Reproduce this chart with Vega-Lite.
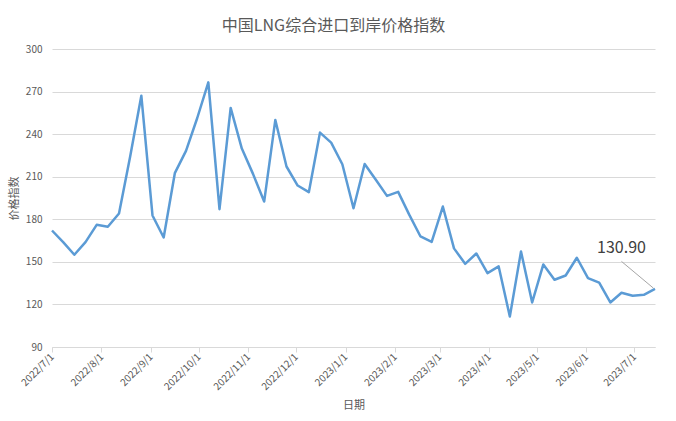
{
  "$schema": "https://vega.github.io/schema/vega-lite/v6.json",
  "autosize": {"type": "none"},
  "padding": {"left": 52, "top": 49, "right": 21, "bottom": 74},
  "width": 603,
  "height": 298,
  "background": "white",
  "title": {"text": "中国LNG综合进口到岸价格指数", "font": "Noto Sans CJK SC", "fontSize": 16, "fontWeight": "normal", "color": "#595959", "offset": 10, "dx": -20},
  "config": {
    "view": {"stroke": null},
    "axis": {"labelFont": "Noto Sans CJK SC", "titleFont": "Noto Sans CJK SC", "labelColor": "#595959", "titleColor": "#595959", "labelFontSize": 10, "titleFontSize": 11, "titleFontWeight": "normal"}
  },
  "datasets": {
    "series": [
      {"date": "2022/07/01", "value": 172.1},
      {"date": "2022/07/08", "value": 163.9},
      {"date": "2022/07/15", "value": 155.0},
      {"date": "2022/07/22", "value": 163.9},
      {"date": "2022/07/29", "value": 176.1},
      {"date": "2022/08/05", "value": 174.7},
      {"date": "2022/08/12", "value": 184.1},
      {"date": "2022/08/19", "value": 224.2},
      {"date": "2022/08/26", "value": 267.1},
      {"date": "2022/09/02", "value": 182.7},
      {"date": "2022/09/09", "value": 167.2},
      {"date": "2022/09/16", "value": 212.5},
      {"date": "2022/09/23", "value": 228.2},
      {"date": "2022/09/30", "value": 251.2},
      {"date": "2022/10/07", "value": 276.5},
      {"date": "2022/10/14", "value": 187.1},
      {"date": "2022/10/21", "value": 258.5},
      {"date": "2022/10/28", "value": 229.8},
      {"date": "2022/11/04", "value": 212.0},
      {"date": "2022/11/11", "value": 192.5},
      {"date": "2022/11/18", "value": 250.0},
      {"date": "2022/11/25", "value": 217.2},
      {"date": "2022/12/02", "value": 203.8},
      {"date": "2022/12/09", "value": 199.1},
      {"date": "2022/12/16", "value": 241.1},
      {"date": "2022/12/23", "value": 234.0},
      {"date": "2022/12/30", "value": 218.8},
      {"date": "2023/01/06", "value": 187.8},
      {"date": "2023/01/13", "value": 219.0},
      {"date": "2023/01/20", "value": 207.8},
      {"date": "2023/01/27", "value": 196.5},
      {"date": "2023/02/03", "value": 199.3},
      {"date": "2023/02/10", "value": 183.1},
      {"date": "2023/02/17", "value": 167.9},
      {"date": "2023/02/24", "value": 164.1},
      {"date": "2023/03/03", "value": 189.0},
      {"date": "2023/03/10", "value": 159.5},
      {"date": "2023/03/17", "value": 148.6},
      {"date": "2023/03/24", "value": 155.9},
      {"date": "2023/03/31", "value": 142.1},
      {"date": "2023/04/07", "value": 146.8},
      {"date": "2023/04/14", "value": 111.5},
      {"date": "2023/04/21", "value": 157.3},
      {"date": "2023/04/28", "value": 121.4},
      {"date": "2023/05/05", "value": 148.2},
      {"date": "2023/05/12", "value": 137.4},
      {"date": "2023/05/19", "value": 140.4},
      {"date": "2023/05/26", "value": 152.9},
      {"date": "2023/06/02", "value": 138.6},
      {"date": "2023/06/09", "value": 135.3},
      {"date": "2023/06/16", "value": 121.4},
      {"date": "2023/06/23", "value": 128.2},
      {"date": "2023/06/30", "value": 126.1},
      {"date": "2023/07/07", "value": 126.8},
      {"date": "2023/07/14", "value": 130.9}
    ],
    "callout": [
      {"date": "2023/06/23", "value": 150.3, "date2": "2023/07/13", "value2": 131.5, "labelValue": 159.5, "label": "130.90"}
    ]
  },
  "layer": [
    {
      "data": {"name": "series"},
      "mark": {"type": "line", "color": "#5b9bd5", "strokeWidth": 2.5, "strokeJoin": "round"},
      "encoding": {
        "x": {
          "field": "date", "type": "temporal",
          "scale": {"domain": [{"year": 2022, "month": 7, "date": 1}, {"year": 2023, "month": 7, "date": 14}]},
          "axis": {
            "title": "日期", "titlePadding": 8,
            "format": "%Y/%-m/%-d", "labelAngle": -45, "labelAlign": "right", "labelBaseline": "middle",
            "values": [
              {"year": 2022, "month": 7, "date": 1}, {"year": 2022, "month": 8, "date": 1}, {"year": 2022, "month": 9, "date": 1},
              {"year": 2022, "month": 10, "date": 1}, {"year": 2022, "month": 11, "date": 1}, {"year": 2022, "month": 12, "date": 1},
              {"year": 2023, "month": 1, "date": 1}, {"year": 2023, "month": 2, "date": 1}, {"year": 2023, "month": 3, "date": 1},
              {"year": 2023, "month": 4, "date": 1}, {"year": 2023, "month": 5, "date": 1}, {"year": 2023, "month": 6, "date": 1},
              {"year": 2023, "month": 7, "date": 1}
            ],
            "grid": false, "domainColor": "#d9d9d9", "tickColor": "#d9d9d9", "tickSize": 5, "labelPadding": 3, "labelOverlap": false
          }
        },
        "y": {
          "field": "value", "type": "quantitative",
          "scale": {"domain": [90, 300], "nice": false, "zero": false},
          "axis": {
            "title": "价格指数", "titlePadding": 6,
            "values": [90, 120, 150, 180, 210, 240, 270, 300],
            "grid": true, "gridColor": "#d9d9d9", "domain": false, "ticks": false, "labelPadding": 10
          }
        }
      }
    },
    {
      "data": {"name": "callout"},
      "mark": {"type": "rule", "color": "#a6a6a6", "strokeWidth": 1},
      "encoding": {
        "x": {"field": "date", "type": "temporal"},
        "y": {"field": "value", "type": "quantitative"},
        "x2": {"field": "date2"},
        "y2": {"field": "value2"}
      }
    },
    {
      "data": {"name": "callout"},
      "mark": {"type": "text", "font": "Noto Sans CJK SC", "fontSize": 16, "color": "#404040", "align": "center", "baseline": "middle"},
      "encoding": {
        "x": {"field": "date", "type": "temporal"},
        "y": {"field": "labelValue", "type": "quantitative"},
        "text": {"field": "label"}
      }
    }
  ]
}
